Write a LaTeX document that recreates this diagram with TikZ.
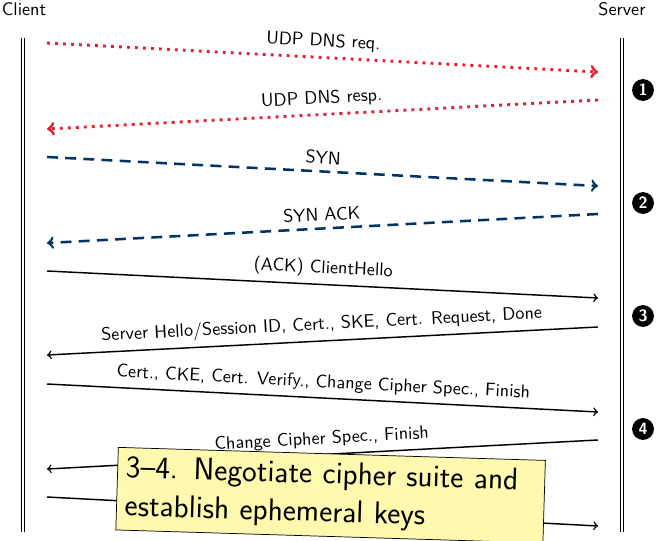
\documentclass[tikz,border=0pt]{standalone}
\usepackage{tikz}
\usetikzlibrary{positioning}
\definecolor{dnsred}{RGB}{230,30,45}
\definecolor{synblue}{RGB}{0,50,100}
\definecolor{noteyellow}{RGB}{255,248,175}

\begin{document}
\begin{tikzpicture}[x=0.55pt,y=-0.55pt,font=\sffamily,
    lifeline/.style={double,double distance=1.2pt,line width=0.5pt},
    dnsmsg/.style={->,dnsred,line width=1.6pt,dash pattern=on 1.6pt off 2.8pt},
    synmsg/.style={->,synblue,line width=1.4pt,dash pattern=on 6pt off 4pt},
    tlsmsg/.style={->,line width=0.8pt},
    msglabel/.style={above,sloped,text=black},
    phase/.style={circle,fill=black,text=white,inner sep=0pt,minimum size=12pt,font=\sffamily\bfseries\small},
    note/.style={draw,fill=noteyellow,rotate=-1.75,align=left,text width=226pt,inner sep=4.5pt,font=\sffamily\fontsize{17.2}{21}\selectfont}]
\useasboundingbox (0,0) rectangle (659,541);
% Here are the two parties and their lifelines
   \node (client) at (24,9) {Client};
   \node (server) at (622,9) {Server};
   \coordinate (ctop) at (23,38);  \coordinate (cbot) at (23,532);
   \coordinate (stop) at (622,38); \coordinate (sbot) at (622,532);
   \draw[lifeline] (ctop) -- (cbot);
   \draw[lifeline] (stop) -- (sbot);
% Here are the end points of each message on both sides
   \coordinate (c1) at (47,43);  \coordinate (s1) at (598,72);
   \coordinate (s2) at (598,100); \coordinate (c2) at (47,129);
   \coordinate (c3) at (47,157); \coordinate (s3) at (598,186);
   \coordinate (s4) at (598,214); \coordinate (c4) at (47,243);
   \coordinate (c5) at (47,271); \coordinate (s5) at (598,298);
   \coordinate (s6) at (598,327); \coordinate (c6) at (47,355);
   \coordinate (c7) at (47,384); \coordinate (s7) at (598,412);
   \coordinate (s8) at (598,440); \coordinate (c8) at (47,469);
   \coordinate (c9) at (47,497); \coordinate (s9) at (598,526);
% Here is where we draw the messages
    \path
    (c1) edge[dnsmsg] node[msglabel] {UDP DNS req.} (s1)
    (s2) edge[dnsmsg] node[msglabel] {UDP DNS resp.} (c2)
    (c3) edge[synmsg] node[msglabel] {SYN} (s3)
    (s4) edge[synmsg] node[msglabel] {SYN ACK} (c4)
    (c5) edge[tlsmsg] node[msglabel] {(ACK) ClientHello} (s5)
    (s6) edge[tlsmsg] node[msglabel] {Server Hello/Session ID, Cert., SKE, Cert. Request, Done} (c6)
    (c7) edge[tlsmsg] node[msglabel] {Cert., CKE, Cert. Verify., Change Cipher Spec., Finish} (s7)
    (s8) edge[tlsmsg] node[msglabel] {Change Cipher Spec., Finish} (c8)
    (c9) edge[tlsmsg] (s9);
% Here are the phase markers
   \node[phase] (p1) at (643,90)  {1};
   \node[phase] (p2) at (643,203) {2};
   \node[phase] (p3) at (643,316) {3};
   \node[phase] (p4) at (643,429) {4};
% Here is the note on top
   \node[note,anchor=north west] (keys) at (118,447)
     {3--4. Negotiate cipher suite and\\establish ephemeral keys};
\end{tikzpicture}
\end{document}
